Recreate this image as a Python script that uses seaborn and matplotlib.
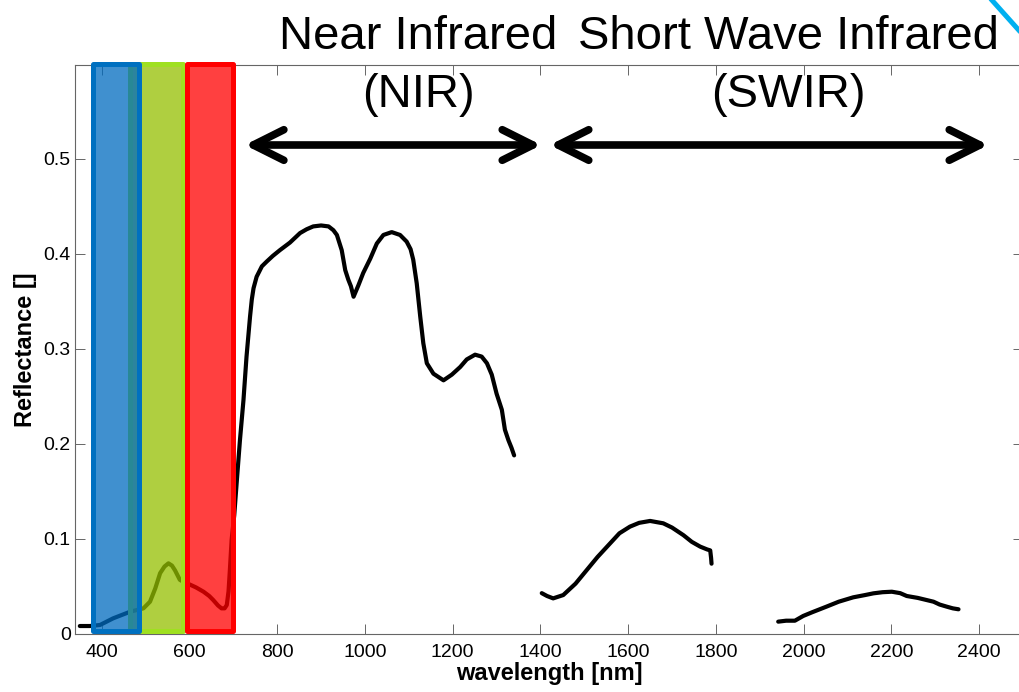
import numpy as np
import pandas as pd
import matplotlib
matplotlib.use("Agg")
import matplotlib.pyplot as plt
import seaborn as sns
from matplotlib.patches import Rectangle
from matplotlib.lines import Line2D

# ---------------- data ----------------
vis_nir_nm = [350, 373, 396, 426, 465, 495, 510, 522, 533, 543, 552, 560, 567, 578,
              590, 601, 615, 632, 645, 654, 665, 673, 680, 685, 689, 692, 696, 702,
              708, 715, 723, 730, 738, 742, 746, 753, 765, 776, 790, 806, 829, 852,
              867, 882, 900, 917, 928, 936, 947, 955, 962, 968, 974, 985, 996, 1012,
              1027, 1042, 1061, 1080, 1095, 1104, 1110, 1118, 1126, 1133, 1141, 1156,
              1179, 1198, 1217, 1232, 1251, 1266, 1278, 1289, 1300, 1312, 1319, 1327,
              1334, 1340]
vis_nir_refl = [0.0084, 0.0084, 0.0095, 0.0165, 0.0235, 0.027, 0.034, 0.048, 0.064,
                0.071, 0.0744, 0.072, 0.067, 0.057, 0.054, 0.052, 0.049, 0.0445, 0.040,
                0.0358, 0.030, 0.027, 0.027, 0.0305, 0.045, 0.067, 0.099, 0.125, 0.162,
                0.204, 0.246, 0.292, 0.334, 0.352, 0.364, 0.376, 0.387, 0.392, 0.398,
                0.404, 0.412, 0.422, 0.426, 0.429, 0.430, 0.429, 0.425, 0.420, 0.404,
                0.383, 0.373, 0.366, 0.355, 0.367, 0.380, 0.395, 0.411, 0.420, 0.423,
                0.420, 0.413, 0.405, 0.394, 0.369, 0.334, 0.306, 0.285, 0.274, 0.267,
                0.273, 0.281, 0.289, 0.294, 0.292, 0.285, 0.273, 0.253, 0.236, 0.215,
                0.204, 0.196, 0.188]

swir1_nm = [1403, 1415, 1429, 1452, 1480, 1505, 1530, 1559, 1580, 1604, 1625, 1650,
            1680, 1700, 1726, 1745, 1764, 1780, 1787, 1789, 1790]
swir1_refl = [0.043, 0.040, 0.0375, 0.041, 0.053, 0.067, 0.081, 0.0955, 0.106, 0.113,
              0.117, 0.119, 0.1165, 0.112, 0.104, 0.097, 0.092, 0.089, 0.088, 0.080, 0.074]

swir2_nm = [1942, 1960, 1980, 1999, 2020, 2052, 2080, 2113, 2140, 2159, 2180, 2201,
            2220, 2235, 2260, 2296, 2310, 2326, 2340, 2353]
swir2_refl = [0.013, 0.014, 0.014, 0.019, 0.023, 0.0288, 0.034, 0.0386, 0.041, 0.0428,
              0.044, 0.0445, 0.043, 0.040, 0.038, 0.034, 0.031, 0.0288, 0.027, 0.026]

# visible colour bands (wavelength ranges)
band_names = ["green", "blue", "red"]
band_start = [465, 379, 594]
band_end = [585, 484, 700]
band_edge = ["#9fe020", "#0070c0", "#ff0000"]
band_face = [(0.58, 0.75, 0.0, 0.75), (0.0, 0.42, 0.75, 0.75), (1.0, 0.0, 0.0, 0.75)]

# region annotations
region_titles = ["Near Infrared", "Short Wave Infrared"]
region_abbr = ["(NIR)", "(SWIR)"]
region_center = [1121, 1965]
region_arrow_start = [726, 1421]
region_arrow_end = [1402, 2421]

x_ticks = [400, 600, 800, 1000, 1200, 1400, 1600, 1800, 2000, 2200, 2400]
y_ticks = [0, 0.1, 0.2, 0.3, 0.4, 0.5]
y_tick_labels = ["0", "0.1", "0.2", "0.3", "0.4", "0.5"]

# ---------------- style ----------------
sns.set_style("ticks")
plt.rcParams["font.family"] = ["Liberation Sans", "DejaVu Sans"]
plt.rcParams["text.color"] = "black"
plt.rcParams["axes.labelcolor"] = "black"

W, H = 1019, 692
fig = plt.figure(figsize=(W / 100, H / 100), dpi=100)
ax = fig.add_axes([75 / W, 58 / H, 948 / W, 569 / H])

segments = [(vis_nir_nm, vis_nir_refl), (swir1_nm, swir1_refl), (swir2_nm, swir2_refl)]
for wl, rf in segments:
    df = pd.DataFrame({"wavelength": wl, "reflectance": rf})
    sns.lineplot(data=df, x="wavelength", y="reflectance", ax=ax, color="black",
                 lw=3, sort=False, estimator=None, zorder=2,
                 solid_joinstyle="round", solid_capstyle="round")

ax.set_xlim(339, 2500)
ax.set_ylim(0, 0.5989)

for name, s, e, ec, fc in zip(band_names, band_start, band_end, band_edge, band_face):
    r = Rectangle((s, 0.003), e - s, 0.5995 - 0.003, facecolor=fc, edgecolor=ec,
                  lw=3.6, zorder=3, clip_on=False, joinstyle="round")
    ax.add_patch(r)

for t, a, c, s, e in zip(region_titles, region_abbr, region_center,
                         region_arrow_start, region_arrow_end):
    ax.text(c, 0.6158, t, ha="center", va="baseline", fontsize=34, color="black",
            clip_on=False)
    ax.text(c, 0.5547, a, ha="center", va="baseline", fontsize=34, color="black",
            clip_on=False)
    ax.annotate("", xy=(e, 0.5147), xytext=(s, 0.5147),
                arrowprops=dict(arrowstyle="<->,head_length=2.2,head_width=1.1",
                                lw=5.5, color="black", shrinkA=0, shrinkB=0,
                                mutation_scale=10, capstyle="round",
                                joinstyle="round"),
                annotation_clip=False)

ax.set_xticks(x_ticks)
ax.set_yticks(y_ticks)
ax.set_yticklabels(y_tick_labels)
ax.tick_params(direction="in", length=7.2, width=0.7, color="#666666",
               top=True, right=True, labelsize=14, labelcolor="black")
ax.tick_params(axis="x", pad=7)
ax.tick_params(axis="y", pad=3)
for sp in ax.spines.values():
    sp.set_color("#666666")
    sp.set_linewidth(0.8)

ax.set_xlabel("wavelength [nm]", fontsize=17, fontweight="bold", labelpad=1)
ax.set_ylabel("Reflectance []", fontsize=17, fontweight="bold", labelpad=5)

fig.add_artist(Line2D([990 / W, 1024 / W], [1 + 2 / H, 1 - 36 / H],
                      transform=fig.transFigure, color="#00b0f0", lw=3.6))

fig.savefig("out.png", dpi=100)
